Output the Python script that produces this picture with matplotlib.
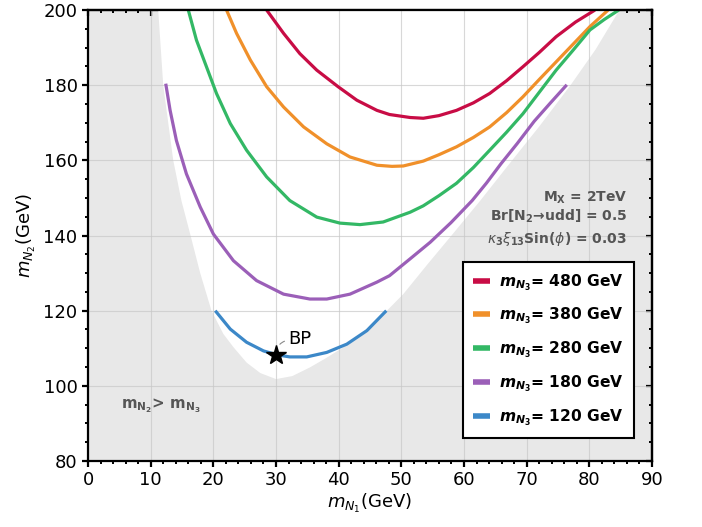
import numpy as np
import matplotlib.pyplot as plt
from matplotlib.ticker import MultipleLocator

# === Curves (m_N1, m_N2) ===
x_480 = [28.5, 31.2, 33.8, 36.5, 39.9, 42.9, 46.1, 48.1, 51.4, 53.5, 56.0, 58.8, 61.5, 64.1, 66.8, 69.4, 72.0, 74.7, 77.8, 80.9]
y_480 = [200.0, 193.8, 188.4, 184.0, 179.6, 176.0, 173.3, 172.2, 171.4, 171.2, 171.9, 173.3, 175.3, 177.8, 181.2, 184.9, 188.7, 192.9, 196.8, 200.0]

x_380 = [22.1, 23.7, 25.9, 28.5, 31.2, 34.4, 38.1, 41.8, 46.1, 48.5, 50.3, 53.5, 56.0, 58.8, 61.5, 64.1, 66.8, 69.4, 72.0, 74.7, 77.4, 80.1, 83.0]
y_380 = [200.0, 193.8, 186.7, 179.6, 174.2, 168.9, 164.4, 160.9, 158.7, 158.4, 158.5, 159.8, 161.5, 163.6, 166.1, 168.9, 172.7, 176.9, 181.5, 186.2, 190.9, 195.6, 200.0]

x_280 = [16.0, 17.3, 18.9, 20.5, 22.7, 25.3, 28.5, 32.2, 36.5, 40.2, 43.4, 47.1, 51.4, 53.5, 56.0, 58.8, 61.5, 64.1, 66.8, 69.4, 72.0, 74.7, 77.4, 80.1, 82.4, 84.7]
y_280 = [200.0, 192.0, 184.9, 177.8, 169.8, 162.7, 155.6, 149.3, 144.9, 143.3, 142.9, 143.6, 146.2, 147.9, 150.6, 153.9, 158.1, 162.7, 167.5, 172.4, 178.1, 184.0, 189.3, 194.7, 197.5, 200.0]

x_180 = [12.4, 13.1, 14.1, 15.7, 17.9, 20.0, 23.2, 26.9, 31.2, 35.4, 38.1, 41.8, 46.1, 48.1, 51.4, 54.6, 57.9, 61.3, 63.6, 65.9, 68.5, 71.2, 73.8, 76.4]
y_180 = [180.4, 173.3, 165.3, 156.4, 147.6, 140.4, 133.3, 128.0, 124.4, 123.1, 123.1, 124.4, 127.6, 129.3, 133.8, 138.2, 143.4, 149.3, 154.0, 159.1, 164.5, 170.4, 175.3, 180.1]

x_120 = [20.3, 22.7, 25.3, 28.0, 30.0, 32.2, 34.9, 38.1, 41.3, 44.5, 47.6]
y_120 = [120.0, 115.1, 111.6, 109.3, 108.3, 107.7, 107.7, 108.9, 111.1, 114.7, 120.0]

# allowed (white) region boundary
bound_x = [11.2, 11.6, 12.0, 12.8, 13.6, 14.9, 16.3, 17.9, 19.7, 21.6, 23.2, 25.3, 27.5, 30.0, 32.6, 35.4,
           38.0, 40.7, 43.4, 46.1, 50.3, 54.2, 58.4, 62.6, 67.2, 72.0, 77.0, 81.0, 84.8]
bound_y = [200.0, 190.0, 180.0, 170.0, 160.0, 149.3, 140.4, 130.0, 120.0, 113.8, 110.3, 106.2, 103.4, 101.8, 102.6, 104.9,
           107.4, 110.2, 113.6, 117.3, 124.4, 132.4, 140.8, 149.3, 159.0, 169.0, 180.0, 189.5, 200.0]

bp = (30.0, 108.3)

curves = [
    (x_480, y_480, 480, "#c80c45"),
    (x_380, y_380, 380, "#f0902a"),
    (x_280, y_280, 280, "#33b865"),
    (x_180, y_180, 180, "#9b5fb8"),
    (x_120, y_120, 120, "#3c88c8"),
]

fig = plt.figure(figsize=(7.02, 5.27), dpi=100)
ax = fig.add_axes([0.1254, 0.1252, 0.8034, 0.8558])
ax.set_facecolor("#e8e8e8")
ax.set_axisbelow(True)

ax.fill(bound_x, bound_y, color="white", lw=0, zorder=0.2)
ax.grid(True, color="#c8c8c8", lw=0.8, alpha=0.7)

for xs, ys, m, c in curves:
    ax.plot(xs, ys, color=c, lw=2.3, solid_capstyle="butt", solid_joinstyle="round",
            label=r"$\mathbfit{m}_{\mathbfit{N}_{\mathbf{3}}}$= %d GeV" % m)

ax.plot(*bp, marker="*", color="black", ms=15, zorder=5)
ax.annotate("BP", xy=bp, xytext=(32.0, 111.1), fontsize=13, ha="left", va="baseline",
            arrowprops=dict(arrowstyle="-", color="#888888", lw=0.8, relpos=(0, 0.45),
                            shrinkA=1, shrinkB=8, connectionstyle="arc3,rad=0.4"))

txt_kw = dict(ha="right", va="center", color="#555555", fontweight="bold", fontsize=10)
ax.text(86.0, 150.1, r"M$_{\mathbf{X}}$ = 2TeV", **txt_kw)
ax.text(86.0, 145.1, r"Br[N$_{\mathbf{2}}$→udd] = 0.5", **txt_kw)
ax.text(86.0, 139.2, r"$\kappa_{\mathbf{3}}\xi_{\mathbf{13}}$Sin($\phi$) = 0.03", **txt_kw)
ax.text(5.3, 94.6, r"$\mathbf{m_{N_2}}$> $\mathbf{m_{N_3}}$", ha="left", va="center",
        color="#555555", fontweight="bold", fontsize=10.8)

ax.set_xlim(0, 90)
ax.set_ylim(80, 200)
ax.xaxis.set_major_locator(MultipleLocator(10))
ax.xaxis.set_minor_locator(MultipleLocator(2))
ax.yaxis.set_major_locator(MultipleLocator(20))
ax.yaxis.set_minor_locator(MultipleLocator(5))
ax.tick_params(which="major", direction="out", length=4, width=1.6, labelsize=13)
ax.tick_params(which="minor", direction="out", length=2.5, width=1.4)

# inward ticks on top / right
sec_x = ax.secondary_xaxis("top")
sec_x.xaxis.set_major_locator(MultipleLocator(10))
sec_x.xaxis.set_minor_locator(MultipleLocator(2))
sec_x.xaxis.set_major_formatter(plt.NullFormatter())
sec_y = ax.secondary_yaxis("right")
sec_y.yaxis.set_major_locator(MultipleLocator(20))
sec_y.yaxis.set_minor_locator(MultipleLocator(5))
sec_y.yaxis.set_major_formatter(plt.NullFormatter())
for sec in (sec_x, sec_y):
    sec.tick_params(which="major", direction="in", length=4, width=1.6)
    sec.tick_params(which="minor", direction="in", length=2.5, width=1.4)
    for s in sec.spines.values():
        s.set_linewidth(1.6)

for s in ax.spines.values():
    s.set_linewidth(1.6)

ax.set_xlabel(r"$m_{N_1}$(GeV)", fontsize=13, labelpad=2)
ax.set_ylabel(r"$m_{N_2}$(GeV)", fontsize=13)

leg = ax.legend(loc="lower right", bbox_to_anchor=(0.968, 0.051), borderaxespad=0,
                fancybox=False, framealpha=1, edgecolor="black",
                prop={"weight": "bold", "size": 11.2}, labelspacing=0.85,
                handlelength=1.1, handletextpad=0.55, borderpad=0.65)
leg.get_frame().set_linewidth(1.5)
for h in leg.legend_handles:
    h.set_linewidth(4)

fig.savefig("out.png", dpi=100)
